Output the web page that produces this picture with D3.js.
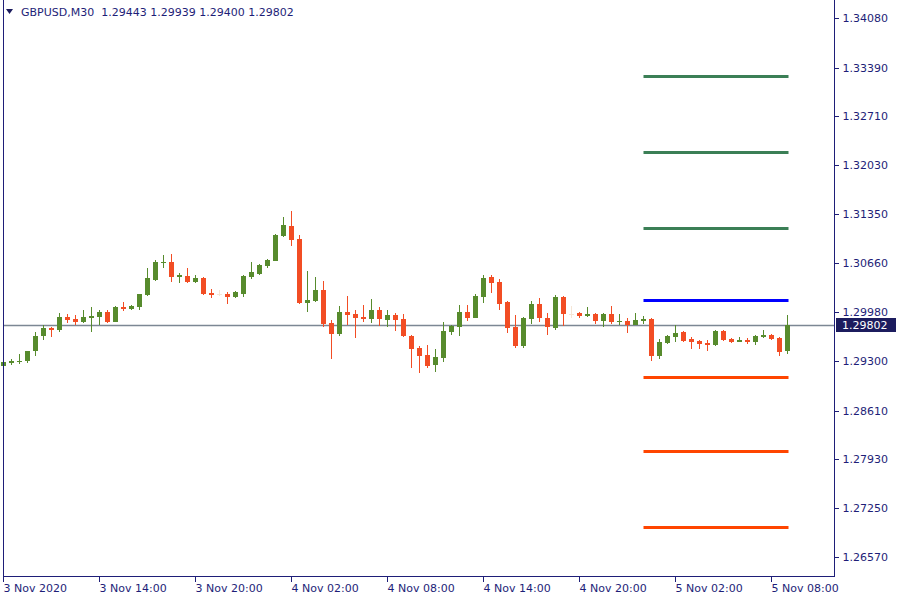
<!DOCTYPE html>
<html>
<head>
<meta charset="utf-8">
<script src="https://cdn.jsdelivr.net/npm/d3@7"></script>
<style>
  html, body { margin: 0; padding: 0; background: #ffffff; }
  svg { display: block; }
  text { font-family: "DejaVu Sans", Verdana, sans-serif; font-size: 11px; }
</style>
</head>
<body>
<svg id="chart" width="900" height="600"></svg>
<script>
// ---- Data (GBPUSD, M30, starting 3 Nov 2020 08:00) ----
const symbolTitle = "GBPUSD,M30";
const openVals = [
  1.29231,1.29273,1.29287,1.29300,1.29440,1.29649,1.29760,1.29732,1.29913,1.29886,
  1.29844,1.29900,1.29913,1.29983,1.29844,1.30053,1.30025,1.30053,1.30220,1.30429,
  1.30666,1.30680,1.30471,1.30485,1.30401,1.30457,1.30248,1.30234,1.30234,1.30192,
  1.30234,1.30471,1.30513,1.30624,1.30694,1.31042,1.31181,1.31000,1.30109,1.30136,
  1.30290,1.29830,1.29677,1.29983,1.29955,1.29913,1.29886,1.30011,1.29872,1.29941,
  1.29886,1.29649,1.29482,1.29384,1.29245,1.29342,1.29704,1.29774,1.29983,1.29900,
  1.30192,1.30471,1.30401,1.30122,1.29774,1.29509,1.29886,1.30095,1.29900,1.29760,
  1.30192,1.29955,1.29969,1.29927,1.29955,1.29858,1.29955,1.29851,1.29858,1.29802,
  1.29858,1.29886,1.29370,1.29551,1.29635,1.29704,1.29607,1.29579,1.29551,1.29523,
  1.29718,1.29607,1.29565,1.29593,1.29565,1.29635,1.29663,1.29621,1.29443
];
const highVals = [
  1.29300,1.29328,1.29398,1.29440,1.29704,1.29802,1.29774,1.29969,1.29955,1.29941,
  1.30011,1.30053,1.30011,1.30011,1.30067,1.30122,1.30081,1.30240,1.30596,1.30708,
  1.30777,1.30791,1.30527,1.30596,1.30499,1.30471,1.30304,1.30290,1.30262,1.30276,
  1.30499,1.30680,1.30652,1.30722,1.31070,1.31307,1.31390,1.31056,1.30554,1.30471,
  1.30415,1.29872,1.30067,1.30206,1.30011,1.30081,1.30164,1.30053,1.30011,1.29969,
  1.29955,1.29663,1.29509,1.29523,1.29468,1.29844,1.29802,1.30081,1.30081,1.30234,
  1.30499,1.30499,1.30443,1.30136,1.29941,1.29913,1.30136,1.30178,1.29969,1.30220,
  1.30206,1.30067,1.29983,1.30053,1.29969,1.29969,1.30067,1.29955,1.29900,1.29969,
  1.29927,1.29900,1.29607,1.29663,1.29802,1.29718,1.29635,1.29593,1.29593,1.29732,
  1.29732,1.29621,1.29635,1.29621,1.29663,1.29732,1.29677,1.29635,1.29939
];
const lowVals = [
  1.29217,1.29245,1.29259,1.29273,1.29370,1.29593,1.29635,1.29704,1.29830,1.29802,
  1.29830,1.29704,1.29802,1.29830,1.29840,1.29997,1.30011,1.30011,1.30206,1.30415,
  1.30596,1.30401,1.30387,1.30387,1.30387,1.30220,1.30178,1.30206,1.30095,1.30178,
  1.30192,1.30443,1.30499,1.30596,1.30690,1.31028,1.30903,1.30100,1.29983,1.30122,
  1.29774,1.29328,1.29649,1.29802,1.29621,1.29844,1.29830,1.29788,1.29774,1.29718,
  1.29635,1.29203,1.29133,1.29203,1.29147,1.29287,1.29663,1.29649,1.29858,1.29895,
  1.30109,1.30248,1.30011,1.29691,1.29482,1.29482,1.29816,1.29844,1.29663,1.29732,
  1.29788,1.29900,1.29900,1.29913,1.29816,1.29774,1.29816,1.29802,1.29691,1.29798,
  1.29816,1.29300,1.29328,1.29537,1.29565,1.29565,1.29468,1.29468,1.29440,1.29509,
  1.29579,1.29551,1.29560,1.29537,1.29523,1.29621,1.29593,1.29370,1.29400
];
const closeVals = [
  1.29287,1.29300,1.29300,1.29440,1.29649,1.29760,1.29732,1.29913,1.29872,1.29844,
  1.29913,1.29927,1.29983,1.29844,1.30053,1.30025,1.30067,1.30234,1.30457,1.30680,
  1.30680,1.30471,1.30499,1.30401,1.30457,1.30234,1.30220,1.30234,1.30192,1.30262,
  1.30485,1.30541,1.30638,1.30708,1.31056,1.31195,1.30986,1.30109,1.30150,1.30290,
  1.29816,1.29677,1.29983,1.29941,1.29900,1.29886,1.30011,1.29886,1.29941,1.29872,
  1.29649,1.29468,1.29370,1.29231,1.29356,1.29718,1.29788,1.29983,1.29900,1.30206,
  1.30457,1.30387,1.30095,1.29760,1.29509,1.29900,1.30095,1.29900,1.29774,1.30192,
  1.29955,1.29955,1.29927,1.29955,1.29858,1.29955,1.29844,1.29858,1.29802,1.29872,
  1.29886,1.29370,1.29565,1.29649,1.29691,1.29579,1.29565,1.29537,1.29523,1.29718,
  1.29593,1.29565,1.29593,1.29565,1.29649,1.29663,1.29607,1.29426,1.29802
];

// Price axis tick labels
const priceTicks = [1.34080,1.33390,1.32710,1.32030,1.31350,1.30660,1.29980,1.29300,1.28610,1.27930,1.27250,1.26570];
// Time axis labels with the bar index they mark
const timeLabels = ["3 Nov 2020","3 Nov 14:00","3 Nov 20:00","4 Nov 02:00","4 Nov 08:00","4 Nov 14:00","4 Nov 20:00","5 Nov 02:00","5 Nov 08:00"];
const timeLabelBars = [0,12,24,36,48,60,72,84,96];

// Pivot levels (drawn for the current day)
const levelNames = ["R3","R2","R1","P","S1","S2","S3"];
const levelValues = [1.33271,1.32213,1.31154,1.30150,1.29078,1.28047,1.26988];
const levelColors = ["#3B7F56","#3B7F56","#3B7F56","#0000FF","#FF4500","#FF4500","#FF4500"];
const levelStartBar = 80;
const lastPrice = 1.29802;

// ---- Layout ----
const svg = d3.select("#chart");
const W = 900, H = 600;
const plotLeft = 3, plotRight = 834, plotTop = 0, plotBottom = 576;
const axisColor = "#1E1E78";
const textColor = "#1E1E78";
const bull = "#578B2D", bear = "#F24D24", doji = "#F5E6D6";

svg.append("rect").attr("width", W).attr("height", H).attr("fill", "#ffffff");

const n = openVals.length;
const x = d3.scaleLinear().domain([0, n - 1]).range([3.5, 3.5 + 8 * (n - 1)]);
const y = d3.scaleLinear().domain([1.26305, 1.34289]).range([plotBottom, plotTop + 3]);

const bars = d3.range(n).map(i => ({
  i, o: openVals[i], h: highVals[i], l: lowVals[i], c: closeVals[i]
}));

// Pivot lines
const lvG = svg.append("g");
lvG.selectAll("line").data(levelValues).join("line")
  .attr("x1", x(levelStartBar)).attr("x2", x(n - 1) + 1)
  .attr("y1", d => Math.round(y(d)) + 0.5).attr("y2", d => Math.round(y(d)) + 0.5)
  .attr("stroke", (d, i) => levelColors[i]).attr("stroke-width", 3);

// Current price line
svg.append("line")
  .attr("x1", plotLeft).attr("x2", plotRight)
  .attr("y1", Math.round(y(lastPrice)) + 0.5).attr("y2", Math.round(y(lastPrice)) + 0.5)
  .attr("stroke", "#7C8794").attr("stroke-width", 1.3);

// Candles
const colorOf = d => d.o === d.c ? doji : (d.c > d.o ? bull : bear);
const cg = svg.append("g").attr("shape-rendering", "crispEdges");
cg.selectAll("line.wick").data(bars).join("line").attr("class", "wick")
  .attr("x1", d => x(d.i)).attr("x2", d => x(d.i))
  .attr("y1", d => y(d.h)).attr("y2", d => y(d.l))
  .attr("stroke", colorOf).attr("stroke-width", 1);
cg.selectAll("rect.body").data(bars).join("rect").attr("class", "body")
  .attr("x", d => x(d.i) - 2.5).attr("width", 5)
  .attr("y", d => y(Math.max(d.o, d.c)))
  .attr("height", d => Math.max(1, Math.abs(y(d.o) - y(d.c))))
  .attr("fill", colorOf);

// Frame
const fg = svg.append("g").attr("shape-rendering", "crispEdges");
fg.append("line").attr("x1", plotLeft + 0.5).attr("x2", plotLeft + 0.5).attr("y1", 0).attr("y2", plotBottom + 0.5).attr("stroke", axisColor);
fg.append("line").attr("x1", plotRight + 0.5).attr("x2", plotRight + 0.5).attr("y1", 0).attr("y2", plotBottom + 0.5).attr("stroke", axisColor);
fg.append("line").attr("x1", plotLeft).attr("x2", plotRight + 1).attr("y1", plotBottom + 0.5).attr("y2", plotBottom + 0.5).attr("stroke", axisColor);

// Price axis
const yAxis = d3.axisRight(y).tickValues(priceTicks).tickSize(4).tickPadding(4)
  .tickFormat(d3.format(".5f"));
const yg = svg.append("g").attr("transform", `translate(${plotRight + 0.5},0)`).call(yAxis);
yg.select(".domain").remove();
yg.selectAll(".tick line").attr("stroke", axisColor).attr("shape-rendering", "crispEdges");
yg.selectAll(".tick text").attr("fill", textColor).attr("font-family", "DejaVu Sans").attr("font-size", 11);

// Time axis
const xg = svg.append("g").attr("transform", `translate(0,${plotBottom + 0.5})`);
const tk = xg.selectAll("g").data(timeLabelBars).join("g")
  .attr("transform", d => `translate(${Math.round(x(d)) - 0.5},0)`);
tk.append("line").attr("y1", 0).attr("y2", 5).attr("stroke", axisColor).attr("shape-rendering", "crispEdges");
tk.append("text").attr("x", 0).attr("y", 15).attr("fill", textColor)
  .text((d, i) => timeLabels[i]);

// Current price label
const py = Math.round(y(lastPrice));
svg.append("rect").attr("x", 836).attr("y", py - 7).attr("width", 60).attr("height", 14).attr("fill", "#1C1C5E");
svg.append("text").attr("x", 842).attr("y", py + 4).attr("fill", "#ffffff").text(d3.format(".5f")(lastPrice));

// Header
svg.append("path").attr("d", "M6,9 L13,9 L9.5,14 Z").attr("fill", "#1C1C5E");
const last = bars[n - 1];
svg.append("text").attr("x", 21).attr("y", 16).attr("fill", textColor)
  .attr("xml:space", "preserve").style("white-space", "pre")
  .text(`${symbolTitle}  ${[last.o, last.h, last.l, last.c].map(d3.format(".5f")).join(" ")}`);
</script>
</body>
</html>
